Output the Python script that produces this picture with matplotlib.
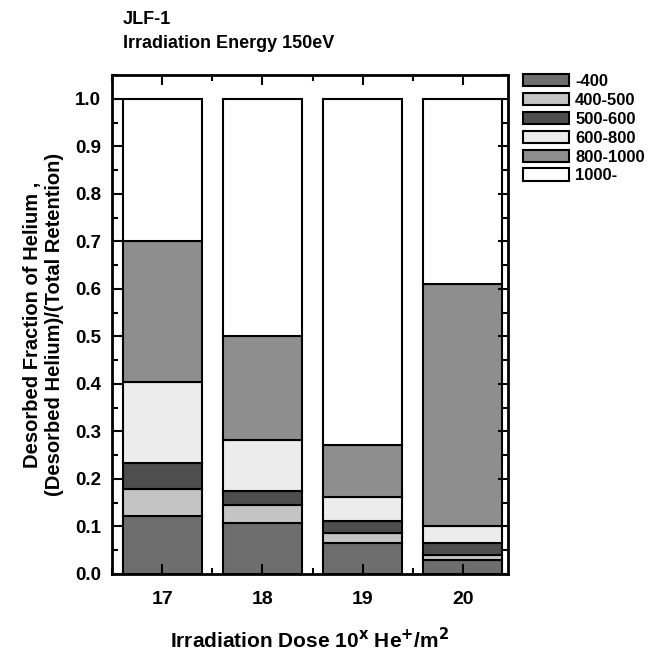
import matplotlib
matplotlib.use("Agg")
import matplotlib.pyplot as plt
import numpy as np
from matplotlib.ticker import MultipleLocator

doses = ["17", "18", "19", "20"]
ranges = ["-400", "400-500", "500-600", "600-800", "800-1000", "1000-"]
frac_m400 = [0.123, 0.107, 0.065, 0.030]
frac_400_500 = [0.055, 0.038, 0.021, 0.010]
frac_500_600 = [0.056, 0.030, 0.025, 0.025]
frac_600_800 = [0.169, 0.107, 0.050, 0.037]
frac_800_1000 = [0.297, 0.218, 0.110, 0.508]
frac_1000p = [0.300, 0.500, 0.729, 0.390]

series = [frac_m400, frac_400_500, frac_500_600, frac_600_800, frac_800_1000, frac_1000p]
colors = ["#6e6e6e", "#c4c4c4", "#4e4e4e", "#ececec", "#8e8e8e", "#ffffff"]

plt.rcParams['font.family'] = ['Liberation Sans', 'DejaVu Sans']
plt.rcParams['font.weight'] = 'bold'

fig = plt.figure(figsize=(6.72, 6.52), dpi=100)
ax = fig.add_axes([112/672, 1-574/652, 396/672, (574-75)/652])

x = np.arange(len(doses))
bottom = np.zeros(len(doses))
handles = []
for vals, col, lab in zip(series, colors, ranges):
    h = ax.bar(x, vals, width=0.79, bottom=bottom, color=col, edgecolor="black",
               linewidth=1.5, label=lab)
    handles.append(h)
    bottom += np.array(vals)

ax.set_xlim(-0.5, 3.45)
ax.set_ylim(0, 1.05)
ax.set_xticks(x)
ax.set_xticklabels(doses, fontsize=14, fontweight='bold')
ax.xaxis.set_minor_locator(MultipleLocator(0.5))
ax.yaxis.set_minor_locator(MultipleLocator(0.05))
yt = np.round(np.arange(0, 1.01, 0.1), 1)
ax.set_yticks(yt)
ax.set_yticklabels([f"{v:.1f}" for v in yt], fontsize=13.5, fontweight='bold')
ax.tick_params(which='both', direction='in', top=True, right=True, width=1.5)
ax.tick_params(which='major', length=7)
ax.tick_params(axis='y', which='major', pad=8)
ax.tick_params(axis='x', which='major', pad=12)
ax.tick_params(which='minor', length=4)
for s in ax.spines.values():
    s.set_linewidth(2)

ax.set_xlabel(r"Irradiation Dose 10$^{\mathbf{x}}$ He$^{\mathbf{+}}$/m$^{\mathbf{2}}$",
              fontsize=15, fontweight='bold', labelpad=14)
ax.set_ylabel("Desorbed Fraction of Helium ,\n(Desorbed Helium)/(Total Retention)",
              fontsize=14.5, fontweight='bold', labelpad=8, linespacing=1.15)

fig.text(123/672, 1-20/652, "JLF-1", fontsize=13, fontweight='bold',
         ha='left', va='center')
fig.text(123/672, 1-44/652, "Irradiation Energy 150eV", fontsize=13, fontweight='bold',
         ha='left', va='center')

ax.legend(handles=handles, labels=ranges, loc='upper left', bbox_to_anchor=(1.02, 1.015),
          frameon=False, fontsize=12, handlelength=2.8, handleheight=0.75,
          labelspacing=0.23, handletextpad=0.35, borderaxespad=0.0)

fig.savefig("out.png", dpi=100)
